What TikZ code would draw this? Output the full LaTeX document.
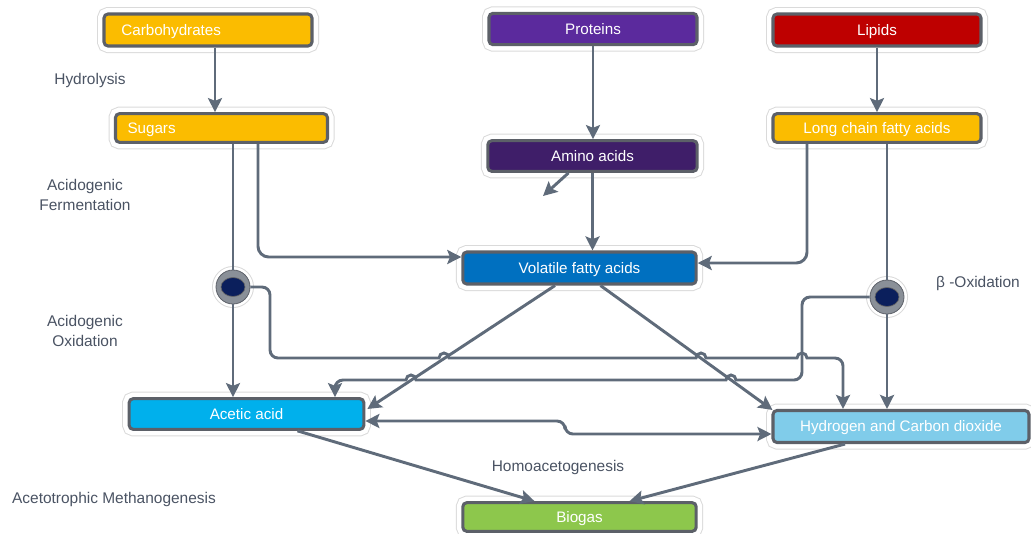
\documentclass[tikz,border=0pt]{standalone}
\usepackage{fontspec}
\setmainfont{Liberation Sans}
\usetikzlibrary{arrows.meta,calc,shapes.geometric}
\definecolor{conn}{HTML}{5F6B7A}
\definecolor{boxedge}{HTML}{5C6068}
\definecolor{bevel}{HTML}{A3A7AD}
\definecolor{halo}{HTML}{DADADA}
\definecolor{lbltext}{HTML}{4A5363}
\definecolor{cyellow}{HTML}{FBBC00}
\definecolor{cpurple}{HTML}{5B2A9D}
\definecolor{cdpurple}{HTML}{3F1E69}
\definecolor{cred}{HTML}{BE0000}
\definecolor{cblue}{HTML}{0070C0}
\definecolor{ccyan}{HTML}{00B0EC}
\definecolor{clight}{HTML}{80CCEA}
\definecolor{cgreen}{HTML}{8DC74C}
\definecolor{cnavy}{HTML}{0B1F5C}
\definecolor{ringgray}{HTML}{8A9098}
\begin{document}
\begin{tikzpicture}[x=0.75pt,y=-0.75pt,
  box/.style={rectangle, rounded corners=3pt, draw=boxedge, line width=2.3pt,
    text=white, font=\fontsize{11.4}{13}\selectfont, inner sep=0pt, align=center,
    text height=8.2pt, text depth=0.6pt,
    preaction={draw=halo,line width=10.5pt},
    preaction={draw=white,line width=9pt}},
  circ/.style={circle, minimum size=25.5pt, inner sep=0pt, fill=ringgray,
    draw=boxedge, line width=0.6pt,
    preaction={draw=halo,line width=6pt},
    preaction={draw=white,line width=4.5pt}},
  flow/.style={draw=conn, line width=2.2pt, -{Stealth[length=10.5pt,width=10.5pt,inset=2pt]}},
  twoway/.style={draw=conn, line width=2.2pt, {Stealth[length=10.5pt,width=10.5pt,inset=2pt]}-{Stealth[length=10.5pt,width=10.5pt,inset=2pt]}},
  plainline/.style={draw=conn, line width=2.2pt},
  lbl/.style={text=lbltext, font=\fontsize{11.6}{15}\selectfont, align=center}]
\useasboundingbox (0,0) rectangle (1031,533);

% boxes
\node[box, fill=cyellow, minimum width=156pt, minimum height=24pt, text width=130pt, align=left] (carb) at (208,30) {Carbohydrates};
\node[box, fill=cyellow, minimum width=159pt, minimum height=21.5pt, text width=141pt, align=left] (sugars) at (221.5,128) {Sugars};
\node[box, fill=cpurple, minimum width=156pt, minimum height=23.5pt] (prot) at (593,29) {Proteins};
\node[box, fill=cdpurple, minimum width=157pt, minimum height=23pt] (amino) at (592.5,156) {Amino acids};
\node[box, fill=cblue, minimum width=175pt, minimum height=24pt] (vfa) at (579.5,268) {Volatile fatty acids};
\node[box, fill=cred, minimum width=156pt, minimum height=24pt] (lip) at (877,30) {Lipids};
\node[box, fill=cyellow, minimum width=156pt, minimum height=21.5pt] (lcfa) at (877,128) {Long chain fatty acids};
\node[box, fill=ccyan, minimum width=176pt, minimum height=23pt] (acetic) at (246.5,414) {Acetic acid};
\node[box, fill=clight, minimum width=192pt, minimum height=24pt] (h2) at (901,426.5) {Hydrogen and Carbon dioxide};
\node[box, fill=cgreen, minimum width=175pt, minimum height=21.5pt] (biogas) at (579.5,517) {Biogas};

% junction circles
\node[circ] (lc) at (233,287) {};
\node[circ] (rc) at (887,297) {};
\fill[cnavy, draw=black!60, line width=0.5pt] (lc.center) ellipse [x radius=12, y radius=9.5];
\fill[cnavy, draw=black!60, line width=0.5pt] (rc.center) ellipse [x radius=12, y radius=9.5];

% labels
\node[lbl] (hyd) at (90,80) {Hydrolysis};
\node[lbl] (af) at (85,195) {Acidogenic\\Fermentation};
\node[lbl] (ao) at (85,331) {Acidogenic\\Oxidation};
\node[lbl] (bo) at (978,283) {β -Oxidation};
\node[lbl] (homo) at (558,467) {Homoacetogenesis};
\node[lbl] (meth) at (114,499) {Acetotrophic Methanogenesis};

% connectors
\draw[flow] ($(carb.south)+(7,0)$) -- ($(sugars.north)+(-6.5,0)$);
\draw[flow] (prot.south) -- (prot.south |- amino.north);
\draw[flow] (lip.south) -- (lcfa.north);
\coordinate (amend) at (543,196);
\draw[flow] ($(amino.south)+(-24,0)$) -- (amend);
\draw[flow] (amino.south) -- (amino.south |- vfa.north);
\draw[plainline] (lc.north |- sugars.south) -- (lc.north);
\draw[flow] (lc.south) -- (lc.south |- acetic.north);
\draw[flow, rounded corners=8] ($(sugars.south)+(36.5,0)$) |- ($(vfa.west)+(0,-11)$);
\draw[flow, rounded corners=8] ($(lcfa.south)+(-70,0)$) |- ($(vfa.east)+(0,-5)$);
\draw[plainline] (rc.north |- lcfa.south) -- (rc.north);
\draw[flow] (rc.south) -- (rc.south |- h2.north);
\draw[flow] ($(vfa.south)+(-24.5,0)$) -- ($(acetic.east)+(2,-5)$);
\draw[flow] ($(vfa.south)+(21,0)$) -- ($(h2.north west)+(1,1)$);
% left junction to hydrogen, jumping over crossings
\draw[flow] (lc.east) -- (262,287) arc[start angle=-90,end angle=0,radius=8]
  -- (270,350) arc[start angle=180,end angle=90,radius=8]
  -- (439,358) arc[start angle=180,end angle=360,radius=5]
  -- (696,358) arc[start angle=180,end angle=360,radius=5]
  -- (797,358) arc[start angle=180,end angle=360,radius=5]
  -- (835,358) arc[start angle=-90,end angle=0,radius=8]
  -- ($(h2.north)+(-58,0)$);
% right junction to acetic acid
\draw[flow] (rc.west) -- (810,297) arc[start angle=-90,end angle=-180,radius=8]
  -- (802,372) arc[start angle=0,end angle=90,radius=8]
  -- (736,380) arc[start angle=0,end angle=-180,radius=5]
  -- (416,380) arc[start angle=0,end angle=-180,radius=5]
  -- (343,380) arc[start angle=-90,end angle=-180,radius=8]
  -- ($(acetic.north)+(88.5,0)$);
\draw[twoway, rounded corners=6] ($(acetic.east)+(0,7)$) -- (565,421) -- (565,434) -- ($(h2.west)+(0,7.5)$);
\draw[flow] ($(acetic.south)+(51,0)$) -- ($(biogas.north)+(-45,0)$);
\draw[flow] ($(h2.south)+(-56,0)$) -- ($(biogas.north)+(50,0)$);
\end{tikzpicture}
\end{document}
